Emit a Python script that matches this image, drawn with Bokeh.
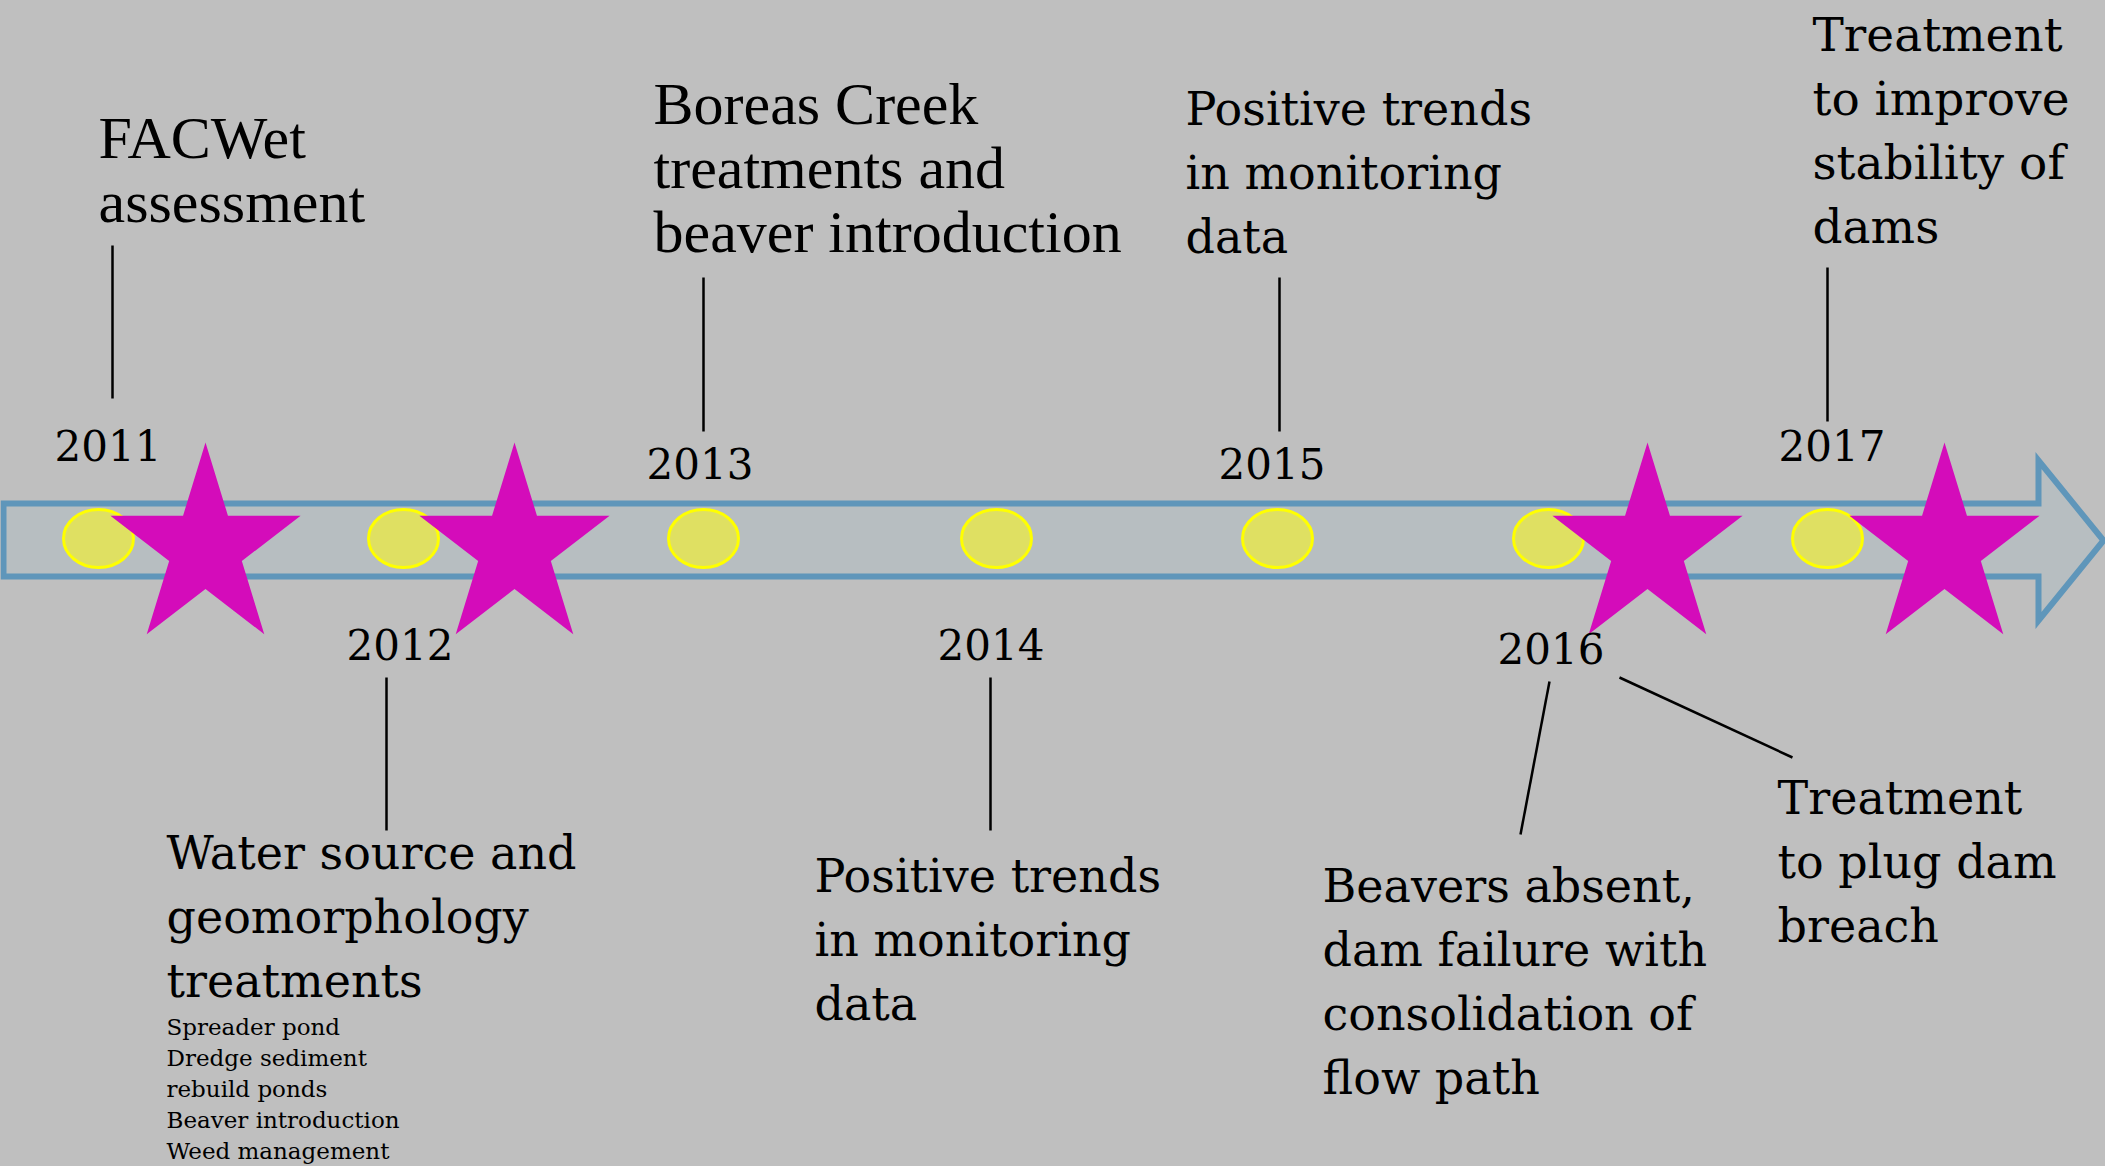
import numpy as np
from bokeh.plotting import figure
from bokeh.models import ColumnDataSource, Range1d
from bokeh.core.properties import value
from bokeh.embed import file_html
from bokeh.resources import INLINE

# ---------------- data ----------------
years = ["2011", "2012", "2013", "2014", "2015", "2016", "2017"]
star_years = ["2011", "2012", "2016", "2017"]

event_2011 = ["FACWet", "assessment"]
event_2012 = ["Water source and", "geomorphology", "treatments"]
event_2012_items = ["Spreader pond", "Dredge sediment", "rebuild ponds",
                    "Beaver introduction", "Weed management"]
event_2013 = ["Boreas Creek", "treatments and", "beaver introduction"]
event_2014 = ["Positive trends", "in monitoring", "data"]
event_2015 = ["Positive trends", "in monitoring", "data"]
event_2016a = ["Beavers absent,", "dam failure with", "consolidation of", "flow path"]
event_2016b = ["Treatment", "to plug dam", "breach"]
event_2017 = ["Treatment", "to improve", "stability of", "dams"]

# ---------------- layout (page pixels) ----------------
marker_x = [98, 403, 703, 996, 1277, 1548, 1827]
marker_y = 538
star_x = [205, 514, 1647, 1944]
star_y = 548
year_lx = [54, 346, 646, 937, 1218, 1497, 1778]
year_by = [460, 659, 478, 659, 478, 663, 460]

BG = "#bfbfbf"
W, H = 2105, 1166
p = figure(width=W, height=H, output_backend="svg", toolbar_location=None,
           x_range=Range1d(0, W), y_range=Range1d(H, 0),
           min_border=0, background_fill_color=BG, border_fill_color=BG)
p.axis.visible = False
p.grid.visible = False
p.outline_line_color = None

# arrow band
ax = [3, 2038, 2038, 2103, 2038, 2038, 3]
ay = [503, 503, 460, 540, 620, 576, 576]
p.patch(ax, ay, fill_color="#b7bec1", line_color="#5f96ba", line_width=6,
        line_join="miter")

# yellow ellipses
p.ellipse(x=marker_x, y=[marker_y] * len(marker_x), width=70, height=58,
          fill_color="#dfe062", line_color="#ffff00", line_width=3)

# magenta stars
def star(cx, cy, rx=100, ry=106, ratio=0.382):
    ang = np.pi / 2 + np.arange(10) * np.pi / 5
    r = np.where(np.arange(10) % 2 == 0, 1.0, ratio)
    return list(cx + rx * r * np.cos(ang)), list(cy - ry * r * np.sin(ang))

sx, sy = zip(*[star(x, star_y) for x in star_x])
p.patches(list(sx), list(sy), fill_color="#d40cba", line_color=None)

# connector lines
lines_x = [[112, 112], [386, 386], [703, 703], [990, 990], [1279, 1279],
           [1549, 1520], [1619, 1792], [1827, 1827]]
lines_y = [[245, 398], [677, 830], [277, 431], [677, 830], [277, 431],
           [681, 834], [677, 757], [267, 421]]
p.multi_line(lines_x, lines_y, line_color="black", line_width=2.5)

SHIFT = 0.36  # baseline correction, fraction of font size

def add_text(lines, x, y0, dy, font, size):
    src = ColumnDataSource(dict(x=[x] * len(lines),
                                y=[y0 - SHIFT * size + i * dy for i in range(len(lines))],
                                t=lines))
    p.text("x", "y", "t", source=src, text_font=value(font),
           text_font_size=value(f"{size}px"), text_baseline="alphabetic",
           text_align="left", text_color="black")

# years
p.text(x=year_lx, y=[y - SHIFT * 42 for y in year_by], text=years,
       text_font=value("DejaVu Serif"),
       text_font_size=value("42px"), text_baseline="alphabetic",
       text_align="left", text_color="black")

add_text(event_2011, 98, 159, 64, "Liberation Serif", 60)
add_text(event_2013, 653, 125, 64, "Liberation Serif", 60)
add_text(event_2015, 1185, 125, 64, "DejaVu Serif", 46)
add_text(event_2017, 1812, 51, 64, "DejaVu Serif", 47)
add_text(event_2012, 166, 869, 64, "DejaVu Serif", 46)
add_text(event_2012_items, 166, 1035, 31, "DejaVu Serif", 23)
add_text(event_2014, 814, 892, 64, "DejaVu Serif", 46)
add_text(event_2016a, 1322, 902, 64, "DejaVu Serif", 46)
add_text(event_2016b, 1777, 814, 64, "DejaVu Serif", 46)

html = file_html(p, INLINE)
html = html.replace("</head>", "<style>body{background:#bfbfbf;}</style></head>", 1)
open("out.html", "w").write(html)
